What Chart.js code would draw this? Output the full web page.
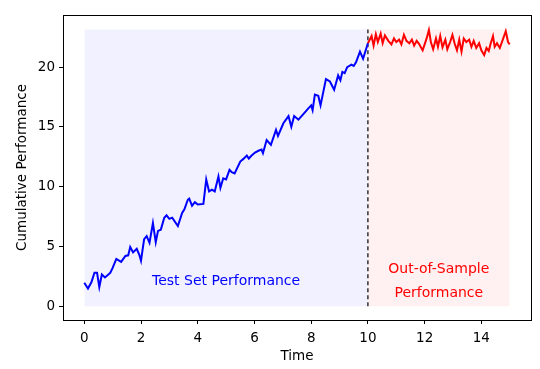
<!DOCTYPE html>
<html>
<head>
<meta charset="utf-8">
<script src="https://cdn.jsdelivr.net/npm/chart.js@4/dist/chart.umd.min.js"></script>
<style>
  body { margin: 0; background: #fff; }
  #wrap { width: 540px; height: 369px; }
</style>
</head>
<body>
<div id="wrap"><canvas id="myChart"></canvas></div>
<script>
// test set (blue) cumulative performance
const blueTime = [0, 0.13, 0.25, 0.36, 0.45, 0.53, 0.62, 0.73, 0.83, 0.92, 1.0, 1.13, 1.3, 1.45, 1.55, 1.62, 1.72, 1.85, 1.94, 2.0,
    2.11, 2.2, 2.3, 2.42, 2.52, 2.6, 2.7, 2.82, 2.9, 3.0, 3.1, 3.3, 3.45, 3.53, 3.65, 3.7, 3.8, 3.9, 4.0, 4.2,
    4.3, 4.4, 4.5, 4.6, 4.73, 4.8, 4.9, 5.0, 5.12, 5.2, 5.3, 5.5, 5.6, 5.73, 5.8, 5.9, 6.02, 6.14, 6.25, 6.3,
    6.43, 6.58, 6.76, 6.83, 7.02, 7.2, 7.3, 7.4, 7.55, 7.7, 7.9, 8.0, 8.05, 8.13, 8.25, 8.33, 8.52, 8.66, 8.81, 8.95,
    9.03, 9.1, 9.18, 9.27, 9.42, 9.5, 9.58, 9.72, 9.83, 10.0];
const blueValues = [1.95, 1.47, 2.0, 2.8, 2.8, 1.6, 2.65, 2.4, 2.6, 2.8, 3.2, 3.95, 3.7, 4.2, 4.25, 4.95, 4.5, 4.8, 4.3, 3.8,
    5.6, 5.85, 5.3, 6.95, 5.35, 6.3, 6.4, 7.4, 7.6, 7.3, 7.4, 6.7, 7.8, 8.1, 8.9, 9.0, 8.4, 8.7, 8.5, 8.55,
    10.6, 9.6, 9.75, 9.6, 10.85, 9.9, 10.7, 10.6, 11.4, 11.2, 11.1, 12.1, 12.3, 12.6, 12.35, 12.6, 12.85, 13.0, 13.1, 12.8,
    13.9, 13.5, 14.75, 14.25, 15.3, 15.9, 15.0, 15.9, 15.6, 16.0, 16.55, 16.8, 16.4, 17.7, 17.6, 16.8, 19.0, 18.8, 18.1, 19.3,
    18.9, 19.6, 19.5, 20.0, 20.2, 20.1, 20.4, 21.3, 20.7, 22.0];

// out-of-sample (red) performance
const redTime = [10.0, 10.13, 10.2, 10.28, 10.35, 10.45, 10.52, 10.6, 10.72, 10.83, 10.92, 11.0, 11.1, 11.18, 11.27, 11.36, 11.46, 11.55, 11.63, 11.72,
    11.8, 11.93, 12.0, 12.07, 12.15, 12.22, 12.3, 12.4, 12.47, 12.55, 12.63, 12.73, 12.8, 12.9, 12.98, 13.06, 13.14, 13.22, 13.3, 13.38,
    13.47, 13.57, 13.65, 13.73, 13.82, 13.92, 14.0, 14.1, 14.18, 14.26, 14.33, 14.41, 14.47, 14.55, 14.65, 14.74, 14.86, 14.94, 15.0];
const redValues = [22.0, 22.6, 21.8, 22.75, 22.1, 22.8, 22.0, 22.65, 22.2, 21.9, 22.4, 22.1, 22.3, 21.9, 22.7, 22.2, 22.0, 22.3, 21.8, 22.2,
    21.95, 21.4, 21.9, 22.4, 23.1, 22.1, 21.5, 22.4, 21.7, 22.6, 21.65, 22.3, 21.5, 22.1, 22.7, 21.95, 21.4, 22.3, 21.3, 22.4,
    22.1, 22.3, 21.7, 22.2, 21.6, 22.0, 21.4, 21.0, 21.6, 21.35, 22.0, 22.6, 21.7, 22.0, 21.6, 22.2, 23.0, 22.1, 21.9];

const xTicks = [0, 2, 4, 6, 8, 10, 12, 14];
const yTicks = [0, 5, 10, 15, 20];
const splitTime = 10;
const endTime = 15;
const shadeTop = 23.15;

const toPoints = (xs, ys) => xs.map((x, i) => ({ x: x, y: ys[i] }));

const font = { family: "'DejaVu Sans', sans-serif", size: 13.5 };

// frame around the plot + text labels
const extras = {
    id: "extras",
    beforeDraw(chart) {
        const { ctx } = chart;
        ctx.save();
        ctx.fillStyle = "#fff";
        ctx.fillRect(0, 0, chart.width, chart.height);
        ctx.restore();
    },
    afterDraw(chart) {
        const { ctx, chartArea: a, scales } = chart;
        ctx.save();
        ctx.strokeStyle = "#000";
        ctx.lineWidth = 1;
        ctx.strokeRect(a.left + 0.5, a.top + 0.5, a.right - a.left, a.bottom - a.top);
        ctx.font = "14px 'DejaVu Sans', sans-serif";
        ctx.textAlign = "center";
        ctx.textBaseline = "middle";
        ctx.fillStyle = "#0000ff";
        ctx.fillText("Test Set Performance", scales.x.getPixelForValue(5.0), scales.y.getPixelForValue(2.1));
        ctx.fillStyle = "#ff0000";
        ctx.fillText("Out-of-Sample", scales.x.getPixelForValue(12.5), scales.y.getPixelForValue(3.05));
        ctx.fillText("Performance", scales.x.getPixelForValue(12.5), scales.y.getPixelForValue(1.1));
        ctx.restore();
    }
};

const ctx = document.getElementById("myChart").getContext("2d");
const myChart = new Chart(ctx, {
    type: "line",
    data: {
        datasets: [
            {
                data: toPoints([splitTime, splitTime], [0, shadeTop]),
                borderColor: "#000",
                borderWidth: 1.2,
                borderDash: [4, 3],
                pointRadius: 0,
                fill: false,
                order: 1,
            },
            {
                data: toPoints(blueTime, blueValues),
                borderColor: "#0000ff",
                borderWidth: 2,
                pointRadius: 0,
                tension: 0,
                fill: false,
                order: 0,
            },
            {
                data: toPoints(redTime, redValues),
                borderColor: "#ff0000",
                borderWidth: 2,
                pointRadius: 0,
                tension: 0,
                fill: false,
                order: 0,
            },
            {
                data: toPoints([0, splitTime], [shadeTop, shadeTop]),
                borderWidth: 0,
                backgroundColor: "rgba(0, 0, 255, 0.055)",
                pointRadius: 0,
                fill: "origin",
                order: 3,
            },
            {
                data: toPoints([splitTime, endTime], [shadeTop, shadeTop]),
                borderWidth: 0,
                backgroundColor: "rgba(255, 0, 0, 0.055)",
                pointRadius: 0,
                fill: "origin",
                order: 3,
            },
        ],
    },
    options: {
        responsive: true,
        maintainAspectRatio: false,
        animation: false,
        events: [],
        plugins: {
            legend: { display: false },
            tooltip: { enabled: false },
        },
        layout: {
            padding: { top: 15, right: 9, bottom: 0, left: 0 }
        },
        scales: {
            x: {
                type: "linear",
                min: -0.75,
                max: 15.75,
                afterFit: (s) => { s.height = 49; },
                afterBuildTicks: (s) => { s.ticks = xTicks.map(v => ({ value: v })); },
                grid: { drawOnChartArea: false, drawTicks: true, tickLength: 4, color: "#000" },
                border: { display: true, color: "#000" },
                ticks: { color: "#000", font: font, padding: 6, maxRotation: 0 },
                title: { display: true, text: "Time", color: "#000", font: font, padding: { top: 0, bottom: 4 } },
            },
            y: {
                type: "linear",
                min: -1.16,
                max: 24.36,
                afterFit: (s) => { s.width = 63; },
                afterBuildTicks: (s) => { s.ticks = yTicks.map(v => ({ value: v })); },
                grid: { drawOnChartArea: false, drawTicks: true, tickLength: 4, color: "#000" },
                border: { display: true, color: "#000" },
                ticks: { color: "#000", font: font, padding: 4 },
                title: { display: true, text: "Cumulative Performance", color: "#000", font: font, padding: { top: 14, bottom: 0 } },
            },
        },
    },
    plugins: [extras],
});
</script>
</body>
</html>
